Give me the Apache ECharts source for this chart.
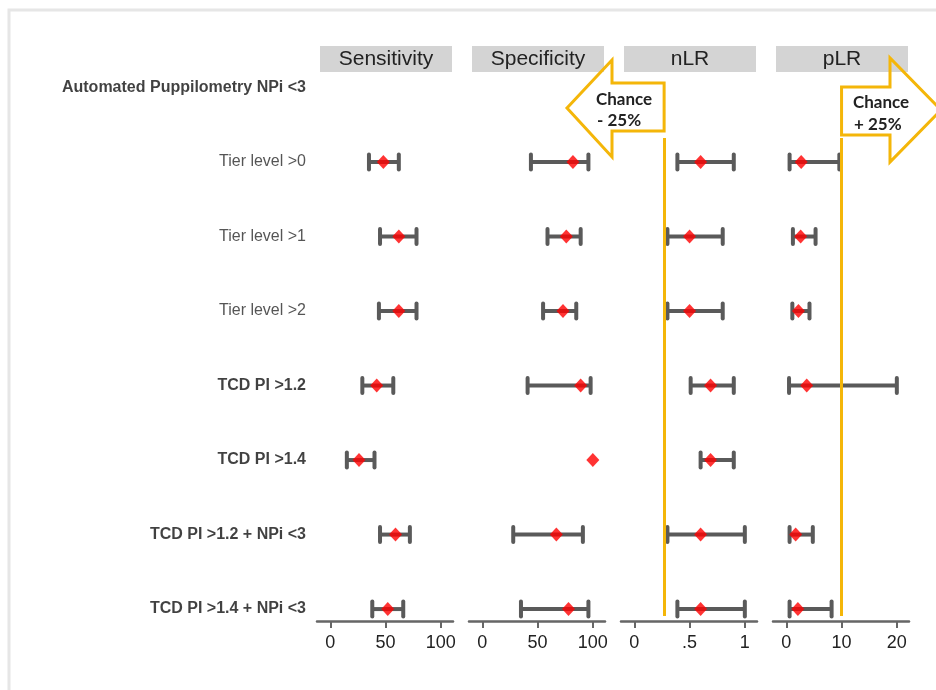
<!DOCTYPE html>
<html>
<head>
<meta charset="utf-8">
<script src="https://cdn.jsdelivr.net/npm/echarts@6/dist/echarts.min.js"></script>
<style>
html,body{margin:0;padding:0;background:#fff;}
#chart{width:936px;height:690px;}
</style>
</head>
<body>
<div id="chart"></div>
<script>
// ---- data ----
const categories = [
  'Automated Puppilometry NPi <3',
  'Tier level >0',
  'Tier level >1',
  'Tier level >2',
  'TCD PI >1.2',
  'TCD PI >1.4',
  'TCD PI >1.2 + NPi <3',
  'TCD PI >1.4 + NPi <3'
];
const panelTitles = ['Sensitivity', 'Specificity', 'nLR', 'pLR'];

// values for rows 1..7 (row 0 is the group header)
const sensPt = [48, 62, 62, 42, 26, 59, 52];
const sensLo = [35, 45, 44, 29, 15, 45, 38];
const sensHi = [62, 78, 78, 57, 40, 72, 66];

const specPt = [82, 76, 73, 89, 100, 67, 78];
const specLo = [44, 59, 55, 41, null, 28, 35];
const specHi = [96, 89, 85, 98, null, 91, 96];

const nlrPt = [0.60, 0.50, 0.50, 0.69, 0.69, 0.60, 0.60];
const nlrLo = [0.39, 0.30, 0.30, 0.51, 0.60, 0.30, 0.39];
const nlrHi = [0.90, 0.80, 0.80, 0.90, 0.90, 1.00, 1.00];

const plrPt = [2.7, 2.6, 2.2, 3.7, null, 1.7, 2.1];
const plrLo = [0.6, 1.2, 1.1, 0.5, null, 0.6, 0.6];
const plrHi = [9.6, 5.3, 4.2, 20, null, 4.8, 8.2];

const sensTicks = [0, 50, 100];
const specTicks = [0, 50, 100];
const nlrTicks = [0, 0.5, 1];
const plrTicks = [0, 10, 20];

const nlrChance = 0.27;   // "Chance - 25%" reference
const plrChance = 10;     // "Chance + 25%" reference
const arrowTexts = [['Chance', '- 25%'], ['Chance', '+ 25%']];

// ---- layout ----
const panels = [
  {pt: sensPt, lo: sensLo, hi: sensHi, ticks: sensTicks, min: -12, max: 111},
  {pt: specPt, lo: specLo, hi: specHi, ticks: specTicks, min: -12, max: 111},
  {pt: nlrPt, lo: nlrLo, hi: nlrHi, ticks: nlrTicks, min: -0.12, max: 1.11},
  {pt: plrPt, lo: plrLo, hi: plrHi, ticks: plrTicks, min: -2.4, max: 22.2}
];
const gridLefts = [317, 469, 621, 773];
const gridWidth = 136;
const gridTop = 50.25;
const gridBottomY = 621;
const yMin = -0.5, yMax = 7.16;

const YELLOW = '#f4b609';
const BAR = '#5a5a5a';

function tickFmt(v) { return String(v).replace(/^0\./, '.'); }

function renderBar(params, api) {
  const a = api.coord([api.value(0), api.value(2)]);
  const b = api.coord([api.value(1), api.value(2)]);
  const h = 7.5;
  const st = {stroke: BAR, lineWidth: 4, lineCap: 'round'};
  return {type: 'group', children: [
    {type: 'line', shape: {x1: a[0], y1: a[1], x2: b[0], y2: b[1]}, style: {stroke: BAR, lineWidth: 4}},
    {type: 'line', shape: {x1: a[0], y1: a[1] - h, x2: a[0], y2: a[1] + h}, style: st},
    {type: 'line', shape: {x1: b[0], y1: b[1] - h, x2: b[0], y2: b[1] + h}, style: st}
  ]};
}

const grids = [], xAxes = [], yAxes = [], series = [];
panels.forEach((p, k) => {
  grids.push({left: gridLefts[k], width: gridWidth, top: gridTop, bottom: 690 - gridBottomY});
  xAxes.push({
    type: 'value', gridIndex: k, min: p.min, max: p.max,
    axisLine: {show: true, onZero: false, lineStyle: {color: '#666', width: 2.5}},
    axisTick: {show: true, customValues: p.ticks, length: 7, lineStyle: {color: '#666', width: 2}},
    axisLabel: {show: true, customValues: p.ticks, formatter: tickFmt, fontSize: 18,
      color: '#222', fontFamily: 'Liberation Sans, Arial, sans-serif', margin: 13},
    splitLine: {show: false}
  });
  yAxes.push({type: 'value', gridIndex: k, inverse: true, min: yMin, max: yMax, show: false});

  const bars = [], pts = [];
  p.pt.forEach((v, i) => {
    if (p.lo[i] != null && p.hi[i] != null) bars.push([p.lo[i], p.hi[i], i + 1]);
    if (v != null) pts.push([v, i + 1]);
  });
  const barSeries = {
    type: 'custom', xAxisIndex: k, yAxisIndex: k, renderItem: renderBar,
    encode: {x: [0, 1], y: 2}, data: bars, clip: false, z: 2, silent: true
  };
  if (k === 2 || k === 3) {
    const xv = k === 2 ? nlrChance : plrChance;
    barSeries.markLine = {
      silent: true, symbol: 'none', label: {show: false},
      lineStyle: {color: YELLOW, width: 3, type: 'solid'},
      data: [[{coord: [xv, 0.678]}, {coord: [xv, 7.094]}]]
    };
  }
  series.push(barSeries);
  series.push({
    type: 'scatter', xAxisIndex: k, yAxisIndex: k, data: pts,
    symbol: 'diamond', symbolSize: [13, 14], itemStyle: {color: '#ff0000'}, z: 3, silent: true
  });
});

// row labels
series.push({
  type: 'scatter', xAxisIndex: 0, yAxisIndex: 0, symbolSize: 0, clip: false, silent: true,
  data: categories.map((c, i) => ({
    value: [panels[0].min, i],
    label: {fontWeight: c.startsWith('Tier') ? 'normal' : 'bold', color: c.startsWith('Tier') ? '#2a2a2a' : '#111'}
  })),
  label: {show: true, position: 'left', distance: 11, fontSize: 16,
    fontFamily: 'Liberation Sans, Arial, sans-serif',
    formatter: (d) => categories[d.dataIndex]}
});

const chart = echarts.init(document.getElementById('chart'), null, {renderer: 'canvas'});
chart.setOption({
  backgroundColor: '#fff',
  animation: false,
  grid: grids, xAxis: xAxes, yAxis: yAxes, series: series
});

// ---- annotations ----
const X1 = chart.convertToPixel({xAxisIndex: 2}, nlrChance);
const X2 = chart.convertToPixel({xAxisIndex: 3}, plrChance);
const graphic = [];
graphic.push({type: 'rect', z: -1, shape: {x: 9, y: 10, width: 940, height: 700},
  style: {fill: 'none', stroke: '#e6e6e6', lineWidth: 3}});
panelTitles.forEach((t, k) => {
  const x = gridLefts[k] + 3;
  graphic.push({type: 'rect', z: 1, shape: {x: x, y: 46, width: 132, height: 26}, style: {fill: '#d4d4d4'}});
  graphic.push({type: 'text', z: 2, x: x + 66, y: 59, style: {text: t, fill: '#222', fontSize: 21,
    fontFamily: 'Liberation Sans, Arial, sans-serif', align: 'center', verticalAlign: 'middle'}});
});
const arrowStyle = {fill: 'none', stroke: YELLOW, lineWidth: 3, lineJoin: 'miter'};
graphic.push({type: 'polygon', z: 5, shape: {points: [
  [567, 108], [612, 60], [612, 83], [X1, 83], [X1, 131], [612, 131], [612, 157]
]}, style: arrowStyle});
graphic.push({type: 'polygon', z: 5, shape: {points: [
  [890, 58], [890, 87], [X2, 87], [X2, 135], [890, 135], [890, 162], [941, 110]
]}, style: arrowStyle});
const txtStyle = {fill: '#222', fontSize: 17, fontWeight: 'bold', fontFamily: 'Lato, Open Sans, sans-serif',
  align: 'left', verticalAlign: 'middle'};
graphic.push({type: 'text', z: 6, x: 596, y: 100, style: Object.assign({text: arrowTexts[0][0]}, txtStyle)});
graphic.push({type: 'text', z: 6, x: 597, y: 121, style: Object.assign({text: arrowTexts[0][1]}, txtStyle)});
graphic.push({type: 'text', z: 6, x: 853, y: 103, style: Object.assign({text: arrowTexts[1][0]}, txtStyle)});
graphic.push({type: 'text', z: 6, x: 854, y: 125, style: Object.assign({text: arrowTexts[1][1]}, txtStyle)});
chart.setOption({graphic: graphic});
</script>
</body>
</html>
